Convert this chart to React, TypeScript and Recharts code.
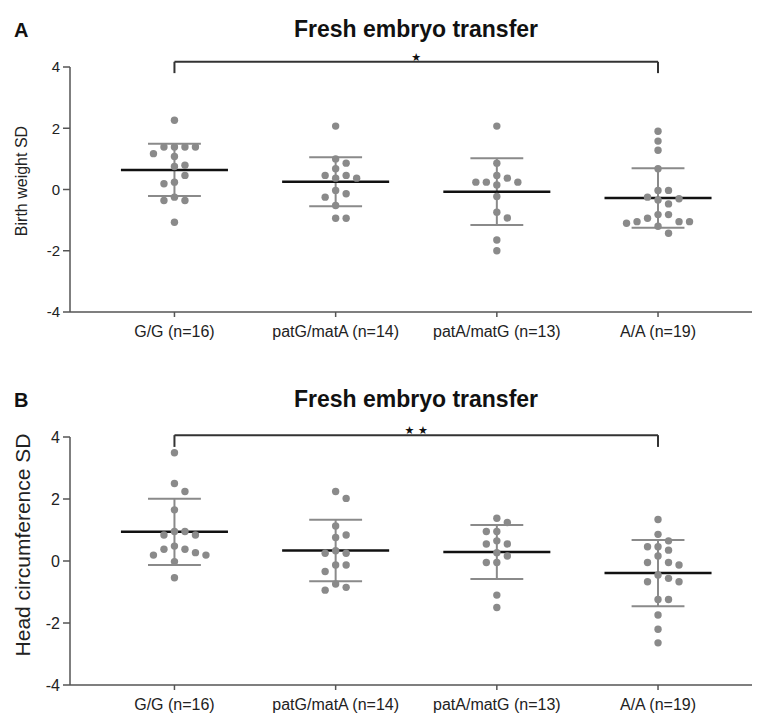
import { ComposedChart, Scatter, XAxis, YAxis, ReferenceLine } from 'recharts'

const GROUPS = ['G/G (n=16)', 'patG/matA (n=14)', 'patA/matG (n=13)', 'A/A (n=19)']
const Y_TICKS = [-4, -2, 0, 2, 4]

// birth weight SD, panel A
const BW_GG = [2.26, 1.39, 1.39, 1.39, 1.39, 1.08, 1.17, 0.79, 0.75, 0.46, 0.19, 0.24, -0.36, -0.36, -0.25, -1.07]
const BW_PGMA = [2.07, 1.0, 0.86, 0.68, 0.46, 0.37, 0.46, 0.37, -0.14, -0.25, -0.03, -0.52, -0.94, -0.94]
const BW_PAMG = [2.07, 0.86, 0.46, 0.24, 0.24, 0.15, 0.24, 0.37, -0.23, -0.74, -0.93, -1.65, -2.0]
const BW_AA = [1.9, 1.58, 1.28, 0.68, -0.03, -0.03, -0.25, -0.3, -0.34, -0.47, -0.82, -0.82, -0.94, -1.05, -1.05, -1.05, -1.1, -1.2, -1.43]
const BW_MEAN = [0.64, 0.25, -0.07, -0.28]
const BW_SD = [0.85, 0.8, 1.09, 0.97]

// head circumference SD, panel B
const HC_GG = [3.49, 2.5, 2.24, 1.65, 0.95, 0.84, 0.84, 0.95, 0.48, 0.27, 0.19, 0.38, 0.38, 0.19, -0.02, -0.54]
const HC_PGMA = [2.24, 2.02, 1.13, 0.84, 0.76, 0.33, 0.25, 0.25, -0.13, -0.13, -0.34, -0.74, -0.94, -0.85]
const HC_PAMG = [1.38, 1.24, 0.95, 0.95, 0.55, 0.55, 0.65, 0.16, 0.27, -0.05, -0.05, -1.1, -1.5]
const HC_AA = [1.34, 0.86, 0.65, 0.46, 0.35, 0.46, 0.16, -0.05, -0.13, -0.05, -0.56, -0.67, -0.67, -0.45, -1.24, -1.24, -1.74, -2.2, -2.64]
const HC_MEAN = [0.94, 0.34, 0.29, -0.39]
const HC_SD = [1.07, 0.99, 0.87, 1.07]

const X_DOMAIN: [number, number] = [0.352, 4.583]
const W = 757
const AXIS_W = 70
const RIGHT = 5
const TOP = 67
const DOT = '#8a8a8a'
const FONT = '"Liberation Sans", Arial, sans-serif'

// simple beeswarm: spread overlapping dots sideways in ~10px steps
function swarm(values: number[], xi: number, pxX: number, pxY: number) {
  const step = 10.5
  const minD = 9
  const placed: { px: number; py: number }[] = []
  const order = values.map((_, i) => i).sort((a, b) => values[b] - values[a])
  const pts: { x: number; y: number }[] = []
  for (const i of order) {
    const py = values[i] * pxY
    let px = 0
    for (let k = 0; k < 30; k++) {
      const cand = k === 0 ? 0 : (k % 2 ? 1 : -1) * Math.ceil(k / 2) * step
      if (placed.every(p => (p.px - cand) ** 2 + (p.py - py) ** 2 >= minD * minD)) {
        px = cand
        break
      }
    }
    placed.push({ px, py })
    pts.push({ x: xi + px / pxX, y: values[i] })
  }
  return pts
}

interface PanelProps {
  letter: string
  yLabel: string
  yLabelSize: number
  yLabelShift: number
  tickSize: number
  groups: number[][]
  means: number[]
  sds: number[]
  stars: string
  bracketY: number
  legY: number
  height: number
  bottom: number
  top: number
}

function Panel(p: PanelProps) {
  const plotH = p.height - TOP - p.bottom - 30
  const pxY = plotH / 8
  const pxX = (W - AXIS_W - RIGHT) / (X_DOMAIN[1] - X_DOMAIN[0])
  const points = p.groups.flatMap((vals, i) => swarm(vals, i + 1, pxX, pxY))
  const midY = TOP + plotH / 2

  return (
    <div style={{ position: 'absolute', left: 0, top: p.top, width: W, height: p.height, fontFamily: FONT }}>
      <div style={{ position: 'absolute', left: 14, top: 20, fontSize: 20, fontWeight: 700, lineHeight: 1, color: '#111' }}>
        {p.letter}
      </div>
      <div style={{ position: 'absolute', left: 216, width: 400, top: 18, textAlign: 'center', fontSize: 23, fontWeight: 700, lineHeight: 1, color: '#111' }}>
        Fresh embryo transfer
      </div>
      <div style={{ position: 'absolute', left: 22, top: midY + p.yLabelShift, width: 0, height: 0 }}>
        <div style={{
          position: 'absolute', transform: 'translate(-50%, -50%) rotate(-90deg)', whiteSpace: 'nowrap',
          fontSize: p.yLabelSize, color: '#222', lineHeight: 1,
        }}>{p.yLabel}</div>
      </div>
      <ComposedChart width={W} height={p.height} margin={{ top: TOP, right: RIGHT, bottom: p.bottom, left: 0 }}>
        <XAxis type="number" dataKey="x" domain={X_DOMAIN} allowDataOverflow ticks={[1, 2, 3, 4]}
          tickFormatter={(v) => GROUPS[Number(v) - 1] ?? ''} height={30}
          tick={{ fontSize: 16, fill: '#222', fontFamily: FONT }} tickSize={5} tickMargin={9}
          stroke="#555" strokeWidth={1.5} />
        <YAxis type="number" dataKey="y" domain={[-4, 4]} ticks={Y_TICKS} width={AXIS_W}
          tick={{ fontSize: p.tickSize, fill: '#222', fontFamily: FONT }} tickSize={7} tickMargin={3}
          stroke="#555" strokeWidth={1.5} />
        {p.means.map((m, i) => (
          <ReferenceLine key={'v' + i} segment={[{ x: i + 1, y: m - p.sds[i] }, { x: i + 1, y: m + p.sds[i] }]}
            stroke={DOT} strokeWidth={2} ifOverflow="visible" />
        ))}
        {p.means.map((m, i) => (
          <ReferenceLine key={'u' + i} segment={[{ x: i + 1 - 0.164, y: m + p.sds[i] }, { x: i + 1 + 0.164, y: m + p.sds[i] }]}
            stroke={DOT} strokeWidth={2} ifOverflow="visible" />
        ))}
        {p.means.map((m, i) => (
          <ReferenceLine key={'l' + i} segment={[{ x: i + 1 - 0.164, y: m - p.sds[i] }, { x: i + 1 + 0.164, y: m - p.sds[i] }]}
            stroke={DOT} strokeWidth={2} ifOverflow="visible" />
        ))}
        <Scatter data={points} dataKey="y" isAnimationActive={false}
          shape={(s: any) => <circle cx={s.cx} cy={s.cy} r={3.7} fill={DOT} />} />
        {p.means.map((m, i) => (
          <ReferenceLine key={'m' + i} segment={[{ x: i + 1 - 0.332, y: m }, { x: i + 1 + 0.332, y: m }]}
            stroke="#111" strokeWidth={2.5} ifOverflow="visible" />
        ))}
        <ReferenceLine segment={[{ x: 1, y: p.legY }, { x: 1, y: p.bracketY }]} stroke="#333" strokeWidth={2} ifOverflow="visible" />
        <ReferenceLine segment={[{ x: 1, y: p.bracketY }, { x: 4, y: p.bracketY }]} stroke="#333" strokeWidth={2} ifOverflow="visible"
          label={{ value: p.stars, position: 'top', offset: 1, fontSize: 11, fill: '#111', fontFamily: 'DejaVu Sans' }} />
        <ReferenceLine segment={[{ x: 4, y: p.bracketY }, { x: 4, y: p.legY }]} stroke="#333" strokeWidth={2} ifOverflow="visible" />
      </ComposedChart>
    </div>
  )
}

export default function App() {
  return (
    <div style={{ position: 'absolute', left: 0, top: 0, width: W, height: 715, background: '#fff' }}>
      <Panel letter="A" yLabel="Birth weight SD" yLabelSize={16} yLabelShift={-9} tickSize={15}
        groups={[BW_GG, BW_PGMA, BW_PAMG, BW_AA]} means={BW_MEAN} sds={BW_SD}
        stars="★" bracketY={4.17} legY={3.8} height={350} bottom={8} top={0} />
      <Panel letter="B" yLabel="Head circumference SD" yLabelSize={21} yLabelShift={-16} tickSize={16}
        groups={[HC_GG, HC_PGMA, HC_PAMG, HC_AA]} means={HC_MEAN} sds={HC_SD}
        stars="★ ★" bracketY={4.06} legY={3.68} height={345} bottom={0} top={370} />
    </div>
  )
}
